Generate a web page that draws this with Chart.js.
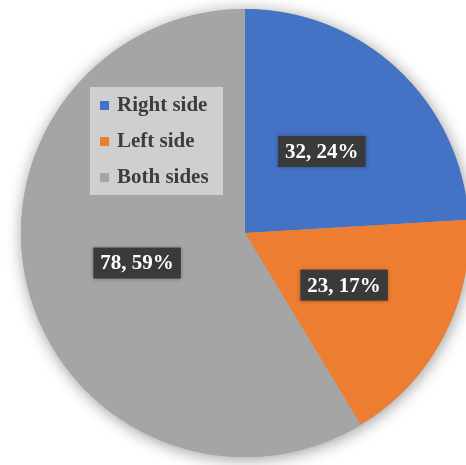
<!DOCTYPE html>
<html>
<head>
<meta charset="utf-8">
<script src="https://cdn.jsdelivr.net/npm/chart.js@4/dist/chart.umd.min.js"></script>
<style>
  html, body { margin: 0; padding: 0; background: #fff; overflow: hidden; }
  #wrap { position: relative; width: 470px; height: 465px; }
</style>
</head>
<body>
<div id="wrap"><canvas id="sideChart"></canvas></div>
<script>
  "use strict";

  // ====
  // Data
  // ====
  const sideLabels = ["Right side", "Left side", "Both sides"];
  const sideCounts = [32, 23, 78];
  const sideColors = ["#4472C4", "#ED7D31", "#A5A5A5"];

  const SERIF = "'Liberation Serif', 'DejaVu Serif', serif";

  // soft halo under the pie
  const pieShadow = {
    id: "pieShadow",
    beforeDatasetsDraw(chart) {
      const arc = chart.getDatasetMeta(0).data[0];
      if (!arc) return;
      const ctx = chart.ctx;
      ctx.save();
      ctx.shadowColor = "rgba(0,0,0,0.4)";
      ctx.shadowBlur = 16;
      ctx.shadowOffsetX = 1;
      ctx.shadowOffsetY = 2;
      ctx.fillStyle = "#a5a5a5";
      ctx.beginPath();
      ctx.arc(arc.x, arc.y, arc.outerRadius, 0, Math.PI * 2);
      ctx.fill();
      ctx.restore();
    },
  };

  // "count, percent" tags in dark boxes at each slice's middle
  const sliceTags = {
    id: "sliceTags",
    afterDatasetsDraw(chart) {
      const ctx = chart.ctx;
      const meta = chart.getDatasetMeta(0);
      const total = sideCounts.reduce((a, b) => a + b, 0);
      ctx.save();
      ctx.font = "bold 21px " + SERIF;
      ctx.textAlign = "center";
      ctx.textBaseline = "middle";
      meta.data.forEach((arc, i) => {
        const p = arc.getCenterPoint();
        const pct = Math.round((sideCounts[i] / total) * 100);
        const text = `${sideCounts[i]}, ${pct}%`;
        const w = ctx.measureText(text).width + 14;
        const h = 31;
        ctx.shadowColor = "rgba(0,0,0,0.3)";
        ctx.shadowBlur = 4;
        ctx.fillStyle = "#3a3a3a";
        ctx.fillRect(p.x - w / 2, p.y - h / 2, w, h);
        ctx.shadowBlur = 0;
        ctx.fillStyle = "#ffffff";
        ctx.fillText(text, p.x, p.y + 1);
      });
      ctx.restore();
    },
  };

  // legend box sitting on top of the grey slice
  const insetLegend = {
    id: "insetLegend",
    afterDraw(chart) {
      const ctx = chart.ctx;
      const x0 = 90, y0 = 87, w = 133, h = 108;
      ctx.save();
      ctx.fillStyle = "#cfcfcf";
      ctx.fillRect(x0, y0, w, h);
      ctx.font = "bold 21px " + SERIF;
      ctx.textBaseline = "middle";
      sideLabels.forEach((label, i) => {
        const y = y0 + 18 + i * 36;
        ctx.fillStyle = sideColors[i];
        ctx.fillRect(x0 + 10, y - 4, 9, 9);
        ctx.fillStyle = "#3d3d3d";
        ctx.fillText(label, x0 + 27, y + 1);
      });
      ctx.restore();
    },
  };

  new Chart(document.getElementById("sideChart"), {
    type: "pie",
    data: {
      labels: sideLabels,
      datasets: [
        {
          data: sideCounts,
          backgroundColor: sideColors,
          borderWidth: 0,
        },
      ],
    },
    options: {
      responsive: true,
      maintainAspectRatio: false,
      animation: false,
      layout: { padding: { left: 21, top: 9, right: 1, bottom: 8 } },
      plugins: {
        legend: { display: false },
        tooltip: { enabled: false },
      },
    },
    plugins: [pieShadow, sliceTags, insetLegend],
  });
</script>
</body>
</html>
